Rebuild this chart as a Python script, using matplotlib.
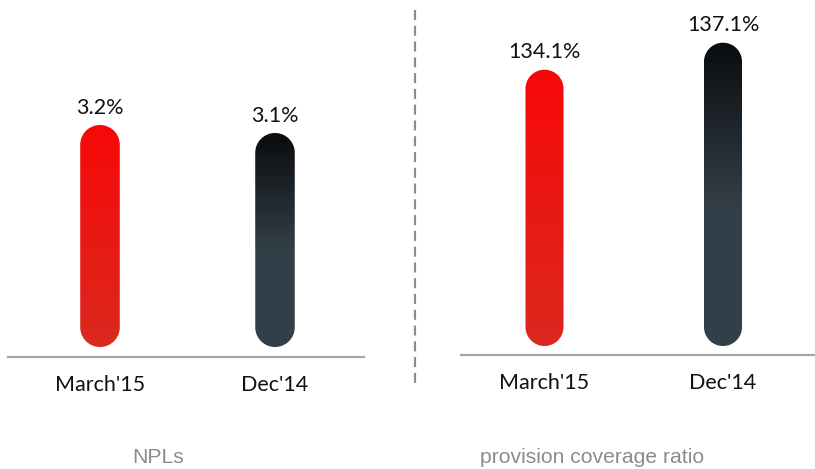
import numpy as np
import matplotlib
matplotlib.use("Agg")
import matplotlib.pyplot as plt
from matplotlib.patches import PathPatch
from matplotlib.path import Path
from matplotlib.transforms import IdentityTransform
from matplotlib.lines import Line2D

# data
categories = ["March'15", "Dec'14"]
npl_values = [3.2, 3.1]
coverage_values = [134.1, 137.1]
panel_titles = ["NPLs", "provision coverage ratio"]

W, H = 815, 469
RED = ("#f80808", "#da291f")
DARK = ("#0a0c0e", "#333f48")


def px_axes(fig, x0, x1, y_top, y_bottom):
    return fig.add_axes([x0 / W, (H - y_bottom) / H, (x1 - x0) / W, (y_bottom - y_top) / H])


def gradient(c_top, c_bottom, n=200, stop=1.0):
    t = np.clip(np.linspace(0, 1, n) / stop, 0, 1)
    a = np.array(matplotlib.colors.to_rgb(c_top))
    b = np.array(matplotlib.colors.to_rgb(c_bottom))
    rows = a[None, :] * (1 - t[:, None]) + b[None, :] * t[:, None]
    return np.repeat(rows[:, None, :], 2, axis=1)


def pill_path(bb):
    # rectangle with semicircular caps, in pixel coordinates
    r = bb.width / 2
    cx = bb.x0 + r
    t_top = np.linspace(0, np.pi, 60)
    t_bot = np.linspace(np.pi, 2 * np.pi, 60)
    top = np.column_stack([cx + r * np.cos(t_top), bb.y1 - r + r * np.sin(t_top)])
    bot = np.column_stack([cx + r * np.cos(t_bot), bb.y0 + r + r * np.sin(t_bot)])
    verts = np.vstack([top, bot, top[:1]])
    codes = [Path.MOVETO] + [Path.LINETO] * (len(verts) - 2) + [Path.CLOSEPOLY]
    return Path(verts, codes)


def pill_bars(ax, values, base, width):
    x = np.arange(len(values))
    bars = ax.bar(x, np.array(values) - base, bottom=base, width=width, color="none", zorder=2)
    styles = [(RED, 1.0), (DARK, 0.55)]
    for rect, (cols, stop) in zip(bars, styles):
        bb = rect.get_window_extent()
        clip = PathPatch(pill_path(bb), transform=IdentityTransform(), facecolor="none", edgecolor="none")
        img = ax.imshow(gradient(cols[0], cols[1], stop=stop), aspect="auto", origin="upper",
                        extent=(rect.get_x(), rect.get_x() + rect.get_width(), base, rect.get_height() + base),
                        zorder=3, interpolation="bilinear")
        img.set_clip_path(clip)
    for xi, v in zip(x, values):
        ax.annotate(f"{v:.1f}%", (xi, v), xytext=(0, 12.5), textcoords="offset points",
                    ha="center", va="center", fontsize=15.5, family="Lato", color="#111111")


def style(ax, title, title_x):
    for s in ("top", "right", "left"):
        ax.spines[s].set_visible(False)
    ax.spines["bottom"].set_color("#a6a6a6")
    ax.spines["bottom"].set_linewidth(1.6)
    ax.set_yticks([])
    ax.set_xticks(range(len(categories)))
    ax.set_xticklabels(categories, fontsize=15.5, family="Lato", color="#111111")
    ax.tick_params(axis="x", length=0, pad=13)
    ax.figure.text(title_x / W, 1 - 457 / H, title, ha="center", va="center",
                   fontsize=15.2, family="Liberation Sans", color="#8c8c8c")


fig = plt.figure(figsize=(W / 100, H / 100), dpi=100)

# left panel: NPLs
ax1 = px_axes(fig, 8, 364, 0, 357)
base1, scale1 = 0.425, 80.0
ax1.set_xlim((8 - 100) / 175, (364 - 100) / 175)
ax1.set_ylim(base1 - 10 / scale1, base1 + 347 / scale1)

# right panel: provision coverage
ax2 = px_axes(fig, 461, 815, 0, 355)
base2, scale2 = 103.4, 9.0
ax2.set_xlim((461 - 544.5) / 178.5, (815 - 544.5) / 178.5)
ax2.set_ylim(base2 - 9 / scale2, base2 + 346 / scale2)

style(ax1, panel_titles[0], 158)
style(ax2, panel_titles[1], 592)
pill_bars(ax1, npl_values, base1, 0.226)
pill_bars(ax2, coverage_values, base2, 0.213)

# dashed separator
fig.add_artist(Line2D([415 / W, 415 / W], [1 - 10 / H, 1 - 385 / H], transform=fig.transFigure,
                      color="#8c8c8c", linewidth=1.6, linestyle=(0, (4.5, 2.6))))

fig.savefig("out.png", dpi=100)
